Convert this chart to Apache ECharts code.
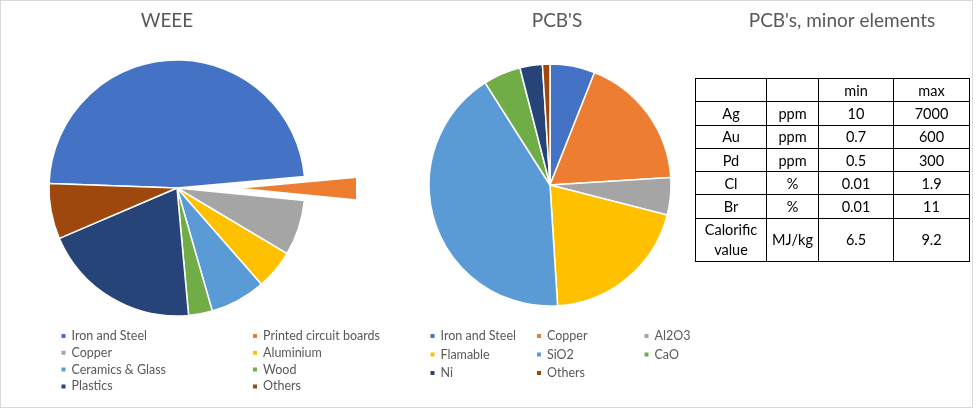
<!DOCTYPE html>
<html>
<head>
<meta charset="utf-8">
<script src="https://cdn.jsdelivr.net/npm/echarts@6/dist/echarts.min.js"></script>
<style>
  html, body { margin: 0; padding: 0; background: #fff; }
  #page { position: relative; width: 980px; height: 412px; overflow: hidden; }
  /* the plot area of the WEEE chart cuts off the exploded slice, like in Excel */
  #weee { position: absolute; left: 0; top: 0; width: 980px; height: 412px;
          clip-path: polygon(0 0, 356px 0, 356px 322px, 980px 322px, 980px 412px, 0 412px); }
  #pcb { position: absolute; left: 0; top: 0; width: 980px; height: 412px; }
  #frame { position: absolute; left: 0; top: 0; width: 971px; height: 406px; border: 1px solid #d9d9d9; pointer-events: none; }
  #minor { position: absolute; left: 695px; top: 78px; border-collapse: collapse; table-layout: fixed;
           font-family: Lato, 'Open Sans', sans-serif; font-size: 14.5px; color: #000; }
  #minor td { border: 1px solid #000; text-align: center; padding: 0; height: 22.3px; line-height: 17px; }
  #minor td.tall { height: 42px; line-height: 20px; }
</style>
</head>
<body>
<div id="page">
  <div id="weee"></div>
  <div id="pcb"></div>
  <table id="minor"></table>
  <div id="frame"></div>
</div>
<script>
// WEEE composition (%)
const weeeNames = ['Iron and Steel', 'Printed circuit boards', 'Copper', 'Aluminium',
                   'Ceramics & Glass', 'Wood', 'Plastics', 'Others'];
const weeeValues = [48, 3, 7, 5, 7, 3, 20, 7];

// PCB composition (%)
const pcbNames = ['Iron and Steel', 'Copper', 'Al2O3', 'Flamable', 'SiO2', 'CaO', 'Ni', 'Others'];
const pcbValues = [6, 18, 5, 20, 42, 5, 3, 1];

// PCB's minor elements table
const minorHeader = ['', '', 'min', 'max'];
const minorElements = ['Ag', 'Au', 'Pd', 'Cl', 'Br', 'Calorific value'];
const minorUnits = ['ppm', 'ppm', 'ppm', '%', '%', 'MJ/kg'];
const minorMin = ['10', '0.7', '0.5', '0.01', '0.01', '6.5'];
const minorMax = ['7000', '600', '300', '1.9', '11', '9.2'];

const palette = ['#4472C4', '#ED7D31', '#A5A5A5', '#FFC000', '#5B9BD5', '#70AD47', '#264478', '#9E480E'];
const font = 'Lato, "Open Sans", sans-serif';
const grey = '#595959';

function titleOf(text, x) {
    return {
        text: text, left: x, top: 11, padding: 0, textAlign: 'center',
        textStyle: { fontFamily: font, fontSize: 19, fontWeight: 'normal', color: grey }
    };
}

// split legend entries into columns, row by row like Excel does
function legendColumns(names, nCols, lefts, top, gap) {
    const cols = [];
    for (let c = 0; c < nCols; c++) {
        cols.push({
            data: names.filter((n, i) => i % nCols === c).map(n => ({
                name: n, itemStyle: { color: palette[names.indexOf(n)] }
            })),
            orient: 'vertical', left: lefts[c], top: top, padding: 0,
            icon: 'rect', itemWidth: 6, itemHeight: 6, itemGap: gap,
            selectedMode: false,
            textStyle: { fontFamily: font, fontSize: 12.5, color: grey }
        });
    }
    return cols;
}

function pieData(names, values, exploded) {
    return names.map((n, i) => ({
        name: n, value: values[i], selected: n === exploded,
        itemStyle: { color: palette[i] }
    }));
}

const weeeChart = echarts.init(document.getElementById('weee'));
weeeChart.setOption({
    animation: false,
    title: [titleOf('WEEE', 167)],
    legend: legendColumns(weeeNames, 2, [59.5, 251], 329.5, 3.8),
    series: [{
        type: 'pie',
        center: [177, 188],
        radius: 128,
        startAngle: 178,
        clockwise: true,
        selectedMode: 'single',
        selectedOffset: 60,
        label: { show: false },
        labelLine: { show: false },
        emphasis: { disabled: true },
        itemStyle: { borderColor: '#fff', borderWidth: 1.5 },
        data: pieData(weeeNames, weeeValues, 'Printed circuit boards')
    }]
});

const pcbChart = echarts.init(document.getElementById('pcb'));
pcbChart.setOption({
    animation: false,
    title: [titleOf("PCB'S", 557), titleOf("PCB's, minor elements", 842)],
    legend: legendColumns(pcbNames, 3, [428.5, 535, 642.5], 329.5, 5.5),
    series: [{
        type: 'pie',
        center: [550, 185],
        radius: 121,
        startAngle: 90,
        clockwise: true,
        label: { show: false },
        labelLine: { show: false },
        emphasis: { disabled: true },
        itemStyle: { borderColor: '#fff', borderWidth: 1.5 },
        data: pieData(pcbNames, pcbValues, null)
    }]
});

// build the table
const table = document.getElementById('minor');
const widths = [71, 52, 75, 76];
const colgroup = document.createElement('colgroup');
widths.forEach(w => {
    const col = document.createElement('col');
    col.style.width = w + 'px';
    colgroup.appendChild(col);
});
table.appendChild(colgroup);

function addRow(cells, tall) {
    const row = document.createElement('tr');
    cells.forEach(t => {
        const td = document.createElement('td');
        td.textContent = t;
        if (tall) td.className = 'tall';
        row.appendChild(td);
    });
    table.appendChild(row);
}
addRow(minorHeader, false);
minorElements.forEach((el, i) => {
    addRow([el, minorUnits[i], minorMin[i], minorMax[i]], el.indexOf(' ') > 0);
});
</script>
</body>
</html>
